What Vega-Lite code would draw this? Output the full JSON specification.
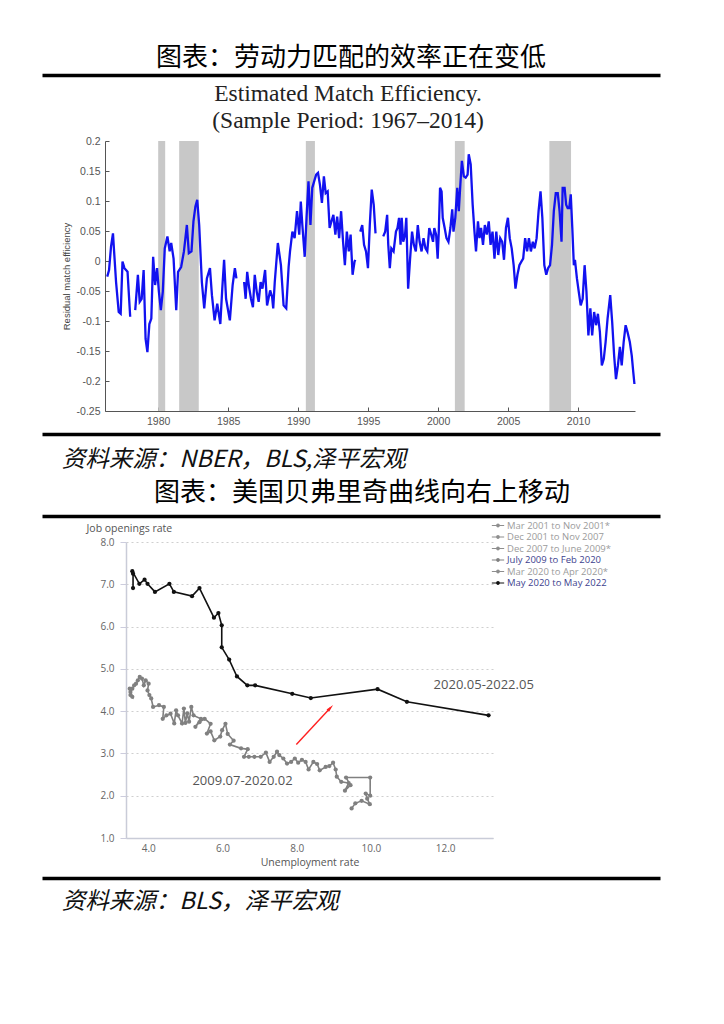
{
  "$schema": "https://vega.github.io/schema/vega-lite/v6.json",
  "background": "white",
  "padding": {"left": 42, "top": 40, "right": 60, "bottom": 60},
  "spacing": 4,
  "config": {"view": {"stroke": null}},
  "resolve": {"scale": {"fill": "independent", "stroke": "independent"}, "legend": {"fill": "independent", "stroke": "independent"}},
  "datasets": {
    "me": [
      {"t":1976.36,"v":-0.026,"s":1},{"t":1976.49,"v":-0.015,"s":1},{"t":1976.63,"v":0.024,"s":1},{"t":1976.77,"v":0.046,"s":1},{"t":1976.85,"v":0.016,"s":1},{"t":1976.99,"v":-0.035,"s":1},{"t":1977.18,"v":-0.085,"s":1},{"t":1977.32,"v":-0.088,"s":1},{"t":1977.45,"v":-0.001,"s":1},{"t":1977.59,"v":-0.012,"s":1},{"t":1977.81,"v":-0.018,"s":1},{"t":1978.0,"v":-0.093,"s":1},
      {"t":1978.36,"v":-0.082,"s":2},{"t":1978.55,"v":-0.023,"s":2},{"t":1978.68,"v":-0.068,"s":2},{"t":1978.82,"v":-0.063,"s":2},{"t":1978.96,"v":-0.015,"s":2},{"t":1979.1,"v":-0.13,"s":2},{"t":1979.23,"v":-0.152,"s":2},{"t":1979.37,"v":-0.105,"s":2},{"t":1979.51,"v":-0.096,"s":2},{"t":1979.64,"v":0.007,"s":2},{"t":1979.78,"v":-0.04,"s":2},{"t":1979.92,"v":-0.012,"s":2},{"t":1980.05,"v":-0.051,"s":2},{"t":1980.19,"v":-0.082,"s":2},{"t":1980.33,"v":-0.051,"s":2},{"t":1980.47,"v":0.021,"s":2},{"t":1980.66,"v":0.041,"s":2},{"t":1980.82,"v":0.016,"s":2},{"t":1980.93,"v":0.03,"s":2},{"t":1981.1,"v":0.004,"s":2},{"t":1981.29,"v":-0.082,"s":2},{"t":1981.42,"v":-0.018,"s":2},{"t":1981.64,"v":-0.01,"s":2},{"t":1981.84,"v":0.016,"s":2},{"t":1982.05,"v":0.06,"s":2},{"t":1982.19,"v":0.013,"s":2},{"t":1982.38,"v":0.016,"s":2},{"t":1982.52,"v":0.066,"s":2},{"t":1982.66,"v":0.091,"s":2},{"t":1982.79,"v":0.102,"s":2},{"t":1982.93,"v":0.06,"s":2},{"t":1983.12,"v":-0.035,"s":2},{"t":1983.29,"v":-0.079,"s":2},{"t":1983.48,"v":-0.029,"s":2},{"t":1983.7,"v":-0.012,"s":2},{"t":1983.84,"v":-0.057,"s":2},{"t":1984.03,"v":-0.099,"s":2},{"t":1984.22,"v":-0.071,"s":2},{"t":1984.44,"v":-0.105,"s":2},{"t":1984.58,"v":-0.046,"s":2},{"t":1984.71,"v":0.002,"s":2},{"t":1984.85,"v":-0.063,"s":2},{"t":1985.12,"v":-0.099,"s":2},{"t":1985.32,"v":-0.04,"s":2},{"t":1985.48,"v":-0.012,"s":2},{"t":1985.59,"v":-0.029,"s":2},
      {"t":1986.14,"v":-0.035,"s":3},{"t":1986.25,"v":-0.063,"s":3},{"t":1986.36,"v":-0.018,"s":3},{"t":1986.49,"v":-0.043,"s":3},{"t":1986.63,"v":-0.063,"s":3},{"t":1986.77,"v":-0.077,"s":3},{"t":1986.9,"v":-0.023,"s":3},{"t":1987.04,"v":-0.051,"s":3},{"t":1987.18,"v":-0.068,"s":3},{"t":1987.32,"v":-0.035,"s":3},{"t":1987.45,"v":-0.046,"s":3},{"t":1987.64,"v":-0.015,"s":3},{"t":1987.78,"v":-0.074,"s":3},{"t":1988.0,"v":-0.049,"s":3},{"t":1988.14,"v":-0.06,"s":3},{"t":1988.22,"v":-0.079,"s":3},{"t":1988.33,"v":-0.035,"s":3},{"t":1988.55,"v":0.03,"s":3},{"t":1988.77,"v":-0.007,"s":3},{"t":1988.96,"v":-0.074,"s":3},{"t":1989.15,"v":-0.079,"s":3},{"t":1989.32,"v":-0.01,"s":3},{"t":1989.42,"v":0.016,"s":3},{"t":1989.59,"v":0.049,"s":3},{"t":1989.75,"v":0.038,"s":3},{"t":1989.92,"v":0.083,"s":3},{"t":1990.08,"v":0.044,"s":3},{"t":1990.19,"v":0.099,"s":3},{"t":1990.3,"v":0.06,"s":3},{"t":1990.47,"v":0.007,"s":3},{"t":1990.6,"v":0.072,"s":3},{"t":1990.74,"v":0.133,"s":3},{"t":1990.88,"v":0.06,"s":3},{"t":1991.01,"v":0.122,"s":3},{"t":1991.15,"v":0.133,"s":3},{"t":1991.29,"v":0.144,"s":3},{"t":1991.42,"v":0.147,"s":3},{"t":1991.56,"v":0.127,"s":3},{"t":1991.7,"v":0.097,"s":3},{"t":1991.84,"v":0.141,"s":3},{"t":1991.97,"v":0.113,"s":3},{"t":1992.11,"v":0.116,"s":3},{"t":1992.25,"v":0.055,"s":3},{"t":1992.38,"v":0.066,"s":3},{"t":1992.52,"v":0.077,"s":3},{"t":1992.66,"v":0.044,"s":3},{"t":1992.79,"v":0.074,"s":3},{"t":1992.93,"v":0.038,"s":3},{"t":1993.07,"v":0.083,"s":3},{"t":1993.21,"v":0.032,"s":3},{"t":1993.34,"v":-0.007,"s":3},{"t":1993.48,"v":0.049,"s":3},{"t":1993.62,"v":0.016,"s":3},{"t":1993.75,"v":0.044,"s":3},{"t":1993.89,"v":-0.023,"s":3},{"t":1994.03,"v":-0.001,"s":3},{"t":1994.08,"v":0.002,"s":3},
      {"t":1994.44,"v":0.049,"s":4},{"t":1994.58,"v":0.06,"s":4},{"t":1994.71,"v":0.027,"s":4},{"t":1994.85,"v":0.016,"s":4},{"t":1994.99,"v":-0.012,"s":4},{"t":1995.12,"v":0.06,"s":4},{"t":1995.26,"v":0.119,"s":4},{"t":1995.4,"v":0.094,"s":4},{"t":1995.53,"v":0.046,"s":4},
      {"t":1996.08,"v":0.041,"s":5},{"t":1996.22,"v":0.049,"s":5},{"t":1996.36,"v":0.077,"s":5},{"t":1996.44,"v":0.027,"s":5},{"t":1996.55,"v":-0.012,"s":5},{"t":1996.66,"v":0.021,"s":5},{"t":1996.82,"v":0.016,"s":5},{"t":1996.99,"v":0.049,"s":5},{"t":1997.1,"v":0.055,"s":5},{"t":1997.21,"v":0.072,"s":5},{"t":1997.32,"v":0.027,"s":5},{"t":1997.4,"v":0.072,"s":5},{"t":1997.51,"v":0.032,"s":5},{"t":1997.64,"v":0.044,"s":5},{"t":1997.73,"v":0.072,"s":5},{"t":1997.86,"v":-0.046,"s":5},{"t":1998.0,"v":0.004,"s":5},{"t":1998.14,"v":0.049,"s":5},{"t":1998.27,"v":0.027,"s":5},{"t":1998.41,"v":0.016,"s":5},{"t":1998.55,"v":0.06,"s":5},{"t":1998.68,"v":0.032,"s":5},{"t":1998.82,"v":0.016,"s":5},{"t":1998.96,"v":0.038,"s":5},{"t":1999.1,"v":0.021,"s":5},{"t":1999.23,"v":0.016,"s":5},{"t":1999.37,"v":0.055,"s":5},{"t":1999.51,"v":0.044,"s":5},{"t":1999.64,"v":0.032,"s":5},{"t":1999.73,"v":0.055,"s":5},{"t":1999.86,"v":0.044,"s":5},{"t":1999.97,"v":0.004,"s":5},{"t":2000.05,"v":0.049,"s":5},{"t":2000.14,"v":0.122,"s":5},{"t":2000.25,"v":0.116,"s":5},{"t":2000.33,"v":0.072,"s":5},{"t":2000.47,"v":0.055,"s":5},{"t":2000.6,"v":0.038,"s":5},{"t":2000.74,"v":0.032,"s":5},{"t":2000.88,"v":0.055,"s":5},{"t":2001.01,"v":0.086,"s":5},{"t":2001.1,"v":0.049,"s":5},{"t":2001.23,"v":0.072,"s":5},{"t":2001.37,"v":0.122,"s":5},{"t":2001.48,"v":0.083,"s":5},{"t":2001.59,"v":0.127,"s":5},{"t":2001.7,"v":0.167,"s":5},{"t":2001.84,"v":0.141,"s":5},{"t":2001.97,"v":0.139,"s":5},{"t":2002.11,"v":0.144,"s":5},{"t":2002.19,"v":0.178,"s":5},{"t":2002.33,"v":0.161,"s":5},{"t":2002.47,"v":0.094,"s":5},{"t":2002.6,"v":0.049,"s":5},{"t":2002.71,"v":0.016,"s":5},{"t":2002.85,"v":0.066,"s":5},{"t":2002.96,"v":0.038,"s":5},{"t":2003.07,"v":0.055,"s":5},{"t":2003.21,"v":0.027,"s":5},{"t":2003.34,"v":0.06,"s":5},{"t":2003.48,"v":0.044,"s":5},{"t":2003.62,"v":0.066,"s":5},{"t":2003.75,"v":0.027,"s":5},{"t":2003.89,"v":0.049,"s":5},{"t":2004.03,"v":0.004,"s":5},{"t":2004.16,"v":0.049,"s":5},{"t":2004.3,"v":0.01,"s":5},{"t":2004.44,"v":0.038,"s":5},{"t":2004.58,"v":0.032,"s":5},{"t":2004.71,"v":0.002,"s":5},{"t":2004.85,"v":0.055,"s":5},{"t":2004.99,"v":0.072,"s":5},{"t":2005.12,"v":0.038,"s":5},{"t":2005.26,"v":0.021,"s":5},{"t":2005.4,"v":-0.007,"s":5},{"t":2005.53,"v":-0.046,"s":5},{"t":2005.67,"v":-0.023,"s":5},{"t":2005.81,"v":-0.007,"s":5},{"t":2005.95,"v":-0.001,"s":5},{"t":2006.08,"v":0.004,"s":5},{"t":2006.22,"v":0.038,"s":5},{"t":2006.36,"v":0.016,"s":5},{"t":2006.49,"v":0.038,"s":5},{"t":2006.63,"v":0.016,"s":5},{"t":2006.77,"v":0.032,"s":5},{"t":2006.9,"v":0.021,"s":5},{"t":2007.04,"v":0.038,"s":5},{"t":2007.18,"v":0.083,"s":5},{"t":2007.32,"v":0.116,"s":5},{"t":2007.45,"v":0.072,"s":5},{"t":2007.59,"v":-0.007,"s":5},{"t":2007.73,"v":-0.023,"s":5},{"t":2007.86,"v":-0.012,"s":5},{"t":2008.0,"v":-0.007,"s":5},{"t":2008.14,"v":0.027,"s":5},{"t":2008.27,"v":0.083,"s":5},{"t":2008.41,"v":0.113,"s":5},{"t":2008.55,"v":0.113,"s":5},{"t":2008.68,"v":0.083,"s":5},{"t":2008.82,"v":0.032,"s":5},{"t":2008.9,"v":0.122,"s":5},{"t":2009.04,"v":0.122,"s":5},{"t":2009.15,"v":0.094,"s":5},{"t":2009.26,"v":0.088,"s":5},{"t":2009.37,"v":0.088,"s":5},{"t":2009.48,"v":0.111,"s":5},{"t":2009.59,"v":0.055,"s":5},{"t":2009.7,"v":-0.007,"s":5},{"t":2009.78,"v":0.002,"s":5},{"t":2009.92,"v":-0.029,"s":5},{"t":2010.05,"v":-0.051,"s":5},{"t":2010.19,"v":-0.074,"s":5},{"t":2010.33,"v":-0.063,"s":5},{"t":2010.47,"v":-0.007,"s":5},{"t":2010.6,"v":-0.051,"s":5},{"t":2010.74,"v":-0.124,"s":5},{"t":2010.88,"v":-0.079,"s":5},{"t":2011.01,"v":-0.124,"s":5},{"t":2011.15,"v":-0.085,"s":5},{"t":2011.29,"v":-0.107,"s":5},{"t":2011.42,"v":-0.088,"s":5},{"t":2011.56,"v":-0.118,"s":5},{"t":2011.7,"v":-0.174,"s":5},{"t":2011.84,"v":-0.163,"s":5},{"t":2011.97,"v":-0.135,"s":5},{"t":2012.11,"v":-0.096,"s":5},{"t":2012.3,"v":-0.057,"s":5},{"t":2012.44,"v":-0.102,"s":5},{"t":2012.58,"v":-0.158,"s":5},{"t":2012.71,"v":-0.197,"s":5},{"t":2012.85,"v":-0.174,"s":5},{"t":2012.99,"v":-0.143,"s":5},{"t":2013.12,"v":-0.174,"s":5},{"t":2013.26,"v":-0.135,"s":5},{"t":2013.4,"v":-0.107,"s":5},{"t":2013.53,"v":-0.118,"s":5},{"t":2013.7,"v":-0.135,"s":5},{"t":2013.84,"v":-0.158,"s":5},{"t":2013.95,"v":-0.186,"s":5},{"t":2014.03,"v":-0.205,"s":5}
    ],
    "rec": [
      {"a":1980.0,"b":1980.5},{"a":1981.5,"b":1982.9},{"a":1990.55,"b":1991.2},{"a":2001.2,"b":2001.9},{"a":2007.95,"b":2009.5}
    ],
    "jo": [
      {"g":"July 2009 to Feb 2020","i":1,"u":9.48,"r":1.70},{"g":"July 2009 to Feb 2020","i":2,"u":9.58,"r":1.82},{"g":"July 2009 to Feb 2020","i":3,"u":9.75,"r":1.88},{"g":"July 2009 to Feb 2020","i":4,"u":9.97,"r":1.80},{"g":"July 2009 to Feb 2020","i":5,"u":9.90,"r":1.93},{"g":"July 2009 to Feb 2020","i":6,"u":9.86,"r":2.05},{"g":"July 2009 to Feb 2020","i":7,"u":9.98,"r":2.00},{"g":"July 2009 to Feb 2020","i":8,"u":9.98,"r":2.43},{"g":"July 2009 to Feb 2020","i":9,"u":9.33,"r":2.43},{"g":"July 2009 to Feb 2020","i":10,"u":9.45,"r":2.25},
      {"g":"July 2009 to Feb 2020","i":11,"u":9.30,"r":2.12},{"g":"July 2009 to Feb 2020","i":12,"u":9.40,"r":2.30},{"g":"July 2009 to Feb 2020","i":13,"u":9.20,"r":2.33},{"g":"July 2009 to Feb 2020","i":14,"u":9.08,"r":2.45},{"g":"July 2009 to Feb 2020","i":15,"u":9.05,"r":2.62},{"g":"July 2009 to Feb 2020","i":16,"u":8.98,"r":2.78},{"g":"July 2009 to Feb 2020","i":17,"u":8.88,"r":2.70},{"g":"July 2009 to Feb 2020","i":18,"u":8.78,"r":2.68},{"g":"July 2009 to Feb 2020","i":19,"u":8.62,"r":2.60},{"g":"July 2009 to Feb 2020","i":20,"u":8.55,"r":2.75},
      {"g":"July 2009 to Feb 2020","i":21,"u":8.45,"r":2.80},{"g":"July 2009 to Feb 2020","i":22,"u":8.32,"r":2.62},{"g":"July 2009 to Feb 2020","i":23,"u":8.24,"r":2.80},{"g":"July 2009 to Feb 2020","i":24,"u":8.14,"r":2.85},{"g":"July 2009 to Feb 2020","i":25,"u":8.04,"r":2.78},{"g":"July 2009 to Feb 2020","i":26,"u":7.95,"r":2.88},{"g":"July 2009 to Feb 2020","i":27,"u":7.85,"r":2.80},{"g":"July 2009 to Feb 2020","i":28,"u":7.74,"r":2.76},{"g":"July 2009 to Feb 2020","i":29,"u":7.64,"r":2.88},{"g":"July 2009 to Feb 2020","i":30,"u":7.53,"r":2.96},
      {"g":"July 2009 to Feb 2020","i":31,"u":7.47,"r":3.04},{"g":"July 2009 to Feb 2020","i":32,"u":7.38,"r":2.92},{"g":"July 2009 to Feb 2020","i":33,"u":7.27,"r":2.80},{"g":"July 2009 to Feb 2020","i":34,"u":7.17,"r":3.02},{"g":"July 2009 to Feb 2020","i":35,"u":7.03,"r":2.92},{"g":"July 2009 to Feb 2020","i":36,"u":6.86,"r":2.92},{"g":"July 2009 to Feb 2020","i":37,"u":6.71,"r":2.92},{"g":"July 2009 to Feb 2020","i":38,"u":6.58,"r":2.92},{"g":"July 2009 to Feb 2020","i":39,"u":6.68,"r":3.10},{"g":"July 2009 to Feb 2020","i":40,"u":6.50,"r":3.12},
      {"g":"July 2009 to Feb 2020","i":41,"u":6.20,"r":3.21},{"g":"July 2009 to Feb 2020","i":42,"u":6.30,"r":3.30},{"g":"July 2009 to Feb 2020","i":43,"u":6.14,"r":3.46},{"g":"July 2009 to Feb 2020","i":44,"u":6.08,"r":3.70},{"g":"July 2009 to Feb 2020","i":45,"u":5.99,"r":3.55},{"g":"July 2009 to Feb 2020","i":46,"u":5.94,"r":3.40},{"g":"July 2009 to Feb 2020","i":47,"u":5.78,"r":3.31},{"g":"July 2009 to Feb 2020","i":48,"u":5.68,"r":3.52},{"g":"July 2009 to Feb 2020","i":49,"u":5.58,"r":3.47},{"g":"July 2009 to Feb 2020","i":50,"u":5.68,"r":3.70},
      {"g":"July 2009 to Feb 2020","i":51,"u":5.52,"r":3.82},{"g":"July 2009 to Feb 2020","i":52,"u":5.38,"r":3.74},{"g":"July 2009 to Feb 2020","i":53,"u":5.27,"r":3.63},{"g":"July 2009 to Feb 2020","i":54,"u":5.42,"r":3.82},{"g":"July 2009 to Feb 2020","i":55,"u":5.22,"r":3.90},{"g":"July 2009 to Feb 2020","i":56,"u":5.16,"r":4.10},{"g":"July 2009 to Feb 2020","i":57,"u":5.10,"r":3.75},{"g":"July 2009 to Feb 2020","i":58,"u":5.05,"r":3.95},{"g":"July 2009 to Feb 2020","i":59,"u":5.00,"r":3.72},{"g":"July 2009 to Feb 2020","i":60,"u":4.96,"r":4.06},
      {"g":"July 2009 to Feb 2020","i":61,"u":4.91,"r":3.71},{"g":"July 2009 to Feb 2020","i":62,"u":4.80,"r":3.90},{"g":"July 2009 to Feb 2020","i":63,"u":4.75,"r":4.02},{"g":"July 2009 to Feb 2020","i":64,"u":4.70,"r":3.71},{"g":"July 2009 to Feb 2020","i":65,"u":4.60,"r":3.94},{"g":"July 2009 to Feb 2020","i":66,"u":4.49,"r":3.90},{"g":"July 2009 to Feb 2020","i":67,"u":4.39,"r":3.82},{"g":"July 2009 to Feb 2020","i":68,"u":4.42,"r":4.10},{"g":"July 2009 to Feb 2020","i":69,"u":4.29,"r":4.14},{"g":"July 2009 to Feb 2020","i":70,"u":4.13,"r":4.10},
      {"g":"July 2009 to Feb 2020","i":71,"u":4.08,"r":4.30},{"g":"July 2009 to Feb 2020","i":72,"u":4.03,"r":4.38},{"g":"July 2009 to Feb 2020","i":73,"u":3.98,"r":4.49},{"g":"July 2009 to Feb 2020","i":74,"u":4.01,"r":4.65},{"g":"July 2009 to Feb 2020","i":75,"u":3.93,"r":4.73},{"g":"July 2009 to Feb 2020","i":76,"u":3.88,"r":4.61},{"g":"July 2009 to Feb 2020","i":77,"u":3.83,"r":4.77},{"g":"July 2009 to Feb 2020","i":78,"u":3.77,"r":4.81},{"g":"July 2009 to Feb 2020","i":79,"u":3.72,"r":4.73},{"g":"July 2009 to Feb 2020","i":80,"u":3.67,"r":4.65},
      {"g":"July 2009 to Feb 2020","i":81,"u":3.62,"r":4.61},{"g":"July 2009 to Feb 2020","i":82,"u":3.57,"r":4.53},{"g":"July 2009 to Feb 2020","i":83,"u":3.52,"r":4.45},{"g":"July 2009 to Feb 2020","i":84,"u":3.50,"r":4.53},{"g":"July 2009 to Feb 2020","i":85,"u":3.57,"r":4.34},{"g":"July 2009 to Feb 2020","i":86,"u":3.52,"r":4.38},
      {"g":"May 2020 to May 2022","i":1,"u":13.17,"r":3.90},{"g":"May 2020 to May 2022","i":2,"u":10.97,"r":4.22},{"g":"May 2020 to May 2022","i":3,"u":10.18,"r":4.52},{"g":"May 2020 to May 2022","i":4,"u":8.38,"r":4.31},{"g":"May 2020 to May 2022","i":5,"u":7.88,"r":4.41},{"g":"May 2020 to May 2022","i":6,"u":6.88,"r":4.61},{"g":"May 2020 to May 2022","i":7,"u":6.67,"r":4.61},{"g":"May 2020 to May 2022","i":8,"u":6.39,"r":4.82},{"g":"May 2020 to May 2022","i":9,"u":6.18,"r":5.22},{"g":"May 2020 to May 2022","i":10,"u":5.98,"r":5.51},{"g":"May 2020 to May 2022","i":11,"u":5.98,"r":6.03},{"g":"May 2020 to May 2022","i":12,"u":5.89,"r":6.32},
      {"g":"May 2020 to May 2022","i":13,"u":5.77,"r":6.21},{"g":"May 2020 to May 2022","i":14,"u":5.38,"r":6.91},{"g":"May 2020 to May 2022","i":15,"u":5.18,"r":6.72},{"g":"May 2020 to May 2022","i":16,"u":4.69,"r":6.82},{"g":"May 2020 to May 2022","i":17,"u":4.57,"r":7.01},{"g":"May 2020 to May 2022","i":18,"u":4.18,"r":6.82},{"g":"May 2020 to May 2022","i":19,"u":3.98,"r":7.01},{"g":"May 2020 to May 2022","i":20,"u":3.90,"r":7.11},{"g":"May 2020 to May 2022","i":21,"u":3.76,"r":7.01},{"g":"May 2020 to May 2022","i":22,"u":3.57,"r":7.31},{"g":"May 2020 to May 2022","i":23,"u":3.59,"r":7.25},{"g":"May 2020 to May 2022","i":24,"u":3.59,"r":6.91}
    ],
    "arrow": [{"x1":7.99,"y1":3.21,"x2":8.91,"y2":4.08}],
    "notes": [{"u":13.04,"r":4.63,"t":"2020.05-2022.05"},{"u":6.54,"r":2.35,"t":"2009.07-2020.02"}]
  },
  "vconcat": [
    {
      "width": 618, "height": 28,
      "data": {"values": [{"t": "图表：劳动力匹配的效率正在变低"}]},
      "mark": {"type": "text", "font": "Noto Sans CJK SC", "fontSize": 26, "color": "#000", "dy": 4},
      "encoding": {"text": {"field": "t"}}
    },
    {
      "width": 618, "height": 2.5,
      "data": {"values": [{}]},
      "mark": {"type": "point", "opacity": 0, "size": 0},
      "encoding": {
        "x": {"datum": 0.5, "type": "quantitative", "scale": {"domain": [0, 1]},
              "axis": {"orient": "top", "domainColor": "#000", "domainWidth": 3.5, "ticks": false, "labels": false, "grid": false, "title": null}}
      }
    },
    {
      "spacing": 0,
      "hconcat": [
        {"width": 19, "height": 288.5, "data": {"values": [{}]}, "mark": {"type": "point", "opacity": 0, "size": 0}},
        {
          "width": 530, "height": 270,
          "title": {"text": ["Estimated Match Efficiency.", "(Sample Period: 1967–2014)"], "font": "Liberation Serif", "fontSize": 23.5, "fontWeight": "normal", "color": "#222", "lineHeight": 27, "anchor": "middle", "dx": -22, "offset": 3.5},
          "layer": [
            {
              "data": {"name": "rec"},
              "mark": {"type": "rect", "color": "#c8c8c8"},
              "encoding": {
                "x": {"field": "a", "type": "quantitative"},
                "x2": {"field": "b"}
              }
            },
            {
              "data": {"name": "me"},
              "mark": {"type": "line", "color": "#1212f0", "strokeWidth": 2.3},
              "encoding": {
                "x": {"field": "t", "type": "quantitative",
                      "scale": {"domain": [1976.2, 2014.07], "nice": false, "zero": false},
                      "axis": {"values": [1980, 1985, 1990, 1995, 2000, 2005, 2010], "format": "d", "labelFont": "Liberation Sans", "labelFontSize": 10.5, "labelColor": "#555", "tickColor": "#555", "tickSize": -4, "labelPadding": 9, "domainColor": "#555", "grid": false, "title": null}},
                "y": {"field": "v", "type": "quantitative",
                      "scale": {"domain": [-0.25, 0.2], "nice": false, "zero": false},
                      "axis": {"values": [-0.25, -0.2, -0.15, -0.1, -0.05, 0, 0.05, 0.1, 0.15, 0.2], "labelExpr": "replace(format(datum.value, '~g'), '−', '-')", "labelFont": "Liberation Sans", "labelFontSize": 10.5, "labelColor": "#555", "tickColor": "#555", "tickSize": -4, "labelPadding": 9, "domainColor": "#555", "grid": false,
                               "title": "Residual match efficiency", "titleFont": "Liberation Sans", "titleFontSize": 9.5, "titleFontWeight": "normal", "titleColor": "#444", "titlePadding": 5}},
                "detail": {"field": "s"}
              }
            }
          ]
        }
      ]
    },
    {
      "width": 618, "height": 42,
      "data": {"values": [{"t": "资料来源：NBER，BLS,泽平宏观"}]},
      "mark": {"type": "text", "font": "Noto Sans CJK SC", "fontSize": 23.5, "fontStyle": "italic", "align": "left", "color": "#111", "dy": 5},
      "encoding": {
        "text": {"field": "t"},
        "x": {"datum": 0.032, "type": "quantitative", "scale": {"domain": [0, 1]},
              "axis": {"orient": "top", "domainColor": "#000", "domainWidth": 3.5, "ticks": false, "labels": false, "grid": false, "title": null}}
      }
    },
    {
      "width": 618, "height": 36,
      "data": {"values": [{"t": "图表：美国贝弗里奇曲线向右上移动"}]},
      "mark": {"type": "text", "font": "Noto Sans CJK SC", "fontSize": 26, "color": "#000", "dy": -5},
      "encoding": {
        "text": {"field": "t"},
        "x": {"datum": 0.518, "type": "quantitative", "scale": {"domain": [0, 1]},
              "axis": {"orient": "bottom", "domainColor": "#000", "domainWidth": 3.5, "ticks": false, "labels": false, "grid": false, "title": null}}
      }
    },
    {
      "spacing": 0,
      "resolve": {"scale": {"fill": "independent", "stroke": "independent"}, "legend": {"fill": "independent", "stroke": "independent"}},
      "hconcat": [
        {"width": 44, "height": 331.5, "data": {"values": [{}]}, "mark": {"type": "point", "opacity": 0, "size": 0}},
        {
          "width": 367, "height": 296,
          "layer": [
            {
              "data": {"name": "jo"},
              "mark": {"type": "line", "strokeWidth": 1.6},
              "encoding": {
                "x": {"field": "u", "type": "quantitative",
                      "scale": {"domain": [3.4, 13.29], "nice": false, "zero": false},
                      "axis": {"values": [4, 6, 8, 10, 12], "format": ".1f", "labelFont": "Open Sans", "labelFontSize": 10, "labelColor": "#666", "tickSize": 0, "labelPadding": 5, "domainColor": "#c9ccd8", "domainWidth": 1.5, "grid": false,
                               "title": "Unemployment rate", "titleFont": "Open Sans", "titleFontSize": 10.5, "titleFontWeight": "normal", "titleColor": "#555", "titlePadding": 4}},
                "y": {"field": "r", "type": "quantitative",
                      "scale": {"domain": [1, 8], "nice": false, "zero": false},
                      "axis": {"values": [1, 2, 3, 4, 5, 6, 7, 8], "format": ".1f", "labelFont": "Open Sans", "labelFontSize": 10, "labelColor": "#666", "tickSize": 6, "tickColor": "#ccd", "labelPadding": 6, "domainColor": "#c9ccd8", "domainWidth": 1.5,
                               "grid": true, "gridDash": [2, 3], "gridColor": "#cfcfcf", "gridWidth": 1,
                               "title": "Job openings rate", "titleAngle": 0, "titleAlign": "left", "titleBaseline": "middle", "titleX": -40, "titleY": -14, "titleFont": "Open Sans", "titleFontSize": 10.5, "titleFontWeight": "normal", "titleColor": "#555"}},
                "stroke": {"field": "g", "type": "nominal",
                           "scale": {"domain": ["Mar 2001 to Nov 2001*", "Dec 2001 to Nov 2007", "Dec 2007 to June 2009*", "July 2009 to Feb 2020", "Mar 2020 to Apr 2020*", "May 2020 to May 2022"], "range": ["#8e8e8e", "#8e8e8e", "#8e8e8e", "#808080", "#8e8e8e", "#111111"]},
                           "legend": {"orient": "none", "legendX": 367, "legendY": -21.5, "title": null, "padding": 0,
                                    "symbolType": "M-1.3,-0.09H1.3V0.09H-1.3Z M-0.4,0A0.4,0.4 0 1,1 0.4,0A0.4,0.4 0 1,1 -0.4,0Z",
                                    "symbolSize": 90, "symbolStrokeWidth": 0, "rowPadding": 1.5, "labelOffset": 4,
                                    "labelFont": "Open Sans", "labelFontSize": 9.5,
                                    "labelColor": {"expr": "datum.label == 'July 2009 to Feb 2020' || datum.label == 'May 2020 to May 2022' ? '#3d3f8e' : '#9b9b9b'"}}},
                "order": {"field": "i", "type": "quantitative"}
              }
            },
            {
              "data": {"name": "jo"},
              "mark": {"type": "point", "filled": true, "size": 18, "opacity": 1},
              "encoding": {
                "x": {"field": "u", "type": "quantitative"},
                "y": {"field": "r", "type": "quantitative"},
                "fill": {"field": "g", "type": "nominal",
                         "scale": {"domain": ["Mar 2001 to Nov 2001*", "Dec 2001 to Nov 2007", "Dec 2007 to June 2009*", "July 2009 to Feb 2020", "Mar 2020 to Apr 2020*", "May 2020 to May 2022"], "range": ["#8e8e8e", "#8e8e8e", "#8e8e8e", "#808080", "#8e8e8e", "#111111"]},
                         "legend": {"orient": "none", "legendX": 367, "legendY": -21.5, "title": null, "padding": 0,
                                    "symbolType": "M-1.3,-0.09H1.3V0.09H-1.3Z M-0.4,0A0.4,0.4 0 1,1 0.4,0A0.4,0.4 0 1,1 -0.4,0Z",
                                    "symbolSize": 90, "symbolStrokeWidth": 0, "rowPadding": 1.5, "labelOffset": 4,
                                    "labelFont": "Open Sans", "labelFontSize": 9.5,
                                    "labelColor": {"expr": "datum.label == 'July 2009 to Feb 2020' || datum.label == 'May 2020 to May 2022' ? '#3d3f8e' : '#9b9b9b'"}}}
              }
            },
            {
              "data": {"name": "arrow"},
              "mark": {"type": "rule", "color": "#ff2020", "strokeWidth": 1.4},
              "encoding": {
                "x": {"field": "x1", "type": "quantitative"},
                "y": {"field": "y1", "type": "quantitative"},
                "x2": {"field": "x2"},
                "y2": {"field": "y2"}
              }
            },
            {
              "data": {"name": "arrow"},
              "mark": {"type": "point", "shape": "M0,-1L0.45,1L-0.45,1Z", "filled": true, "color": "#ff2020", "size": 60, "angle": 43, "opacity": 1},
              "encoding": {
                "x": {"field": "x2", "type": "quantitative"},
                "y": {"field": "y2", "type": "quantitative"}
              }
            },
            {
              "data": {"name": "notes"},
              "mark": {"type": "text", "font": "Open Sans", "fontSize": 13, "color": "#555"},
              "encoding": {
                "x": {"field": "u", "type": "quantitative"},
                "y": {"field": "r", "type": "quantitative"},
                "text": {"field": "t"}
              }
            }
          ]
        }
      ]
    },
    {
      "width": 618, "height": 46,
      "data": {"values": [{"t": "资料来源：BLS，泽平宏观"}]},
      "mark": {"type": "text", "font": "Noto Sans CJK SC", "fontSize": 23.5, "fontStyle": "italic", "align": "left", "color": "#111", "dy": 1},
      "encoding": {
        "text": {"field": "t"},
        "x": {"datum": 0.032, "type": "quantitative", "scale": {"domain": [0, 1]},
              "axis": {"orient": "top", "domainColor": "#000", "domainWidth": 3.5, "ticks": false, "labels": false, "grid": false, "title": null}}
      }
    }
  ]
}
